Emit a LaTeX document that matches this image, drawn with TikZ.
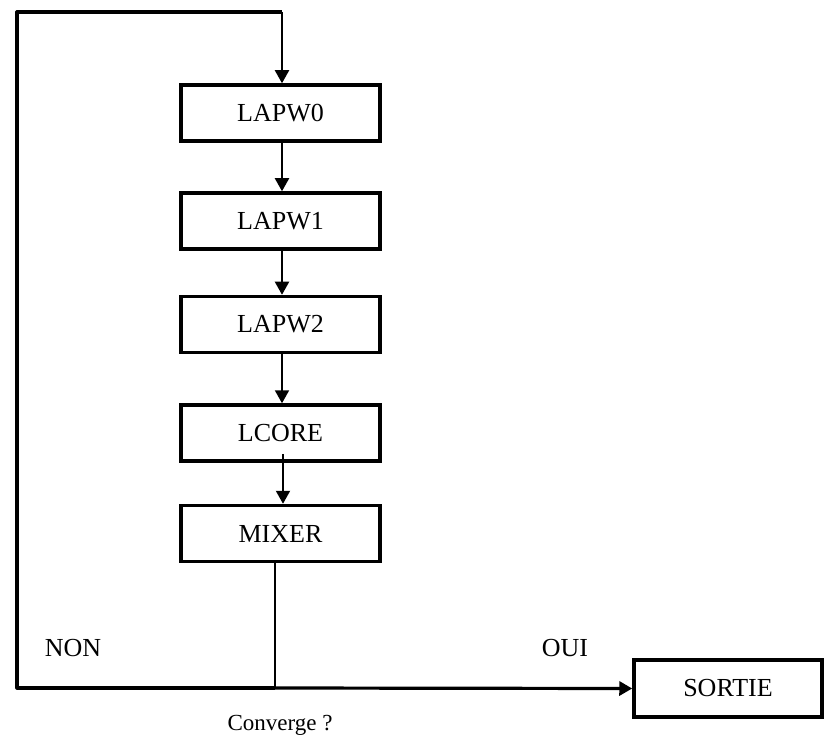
\documentclass[tikz,border=0pt]{standalone}
\usepackage{fontspec}
\setmainfont{Liberation Serif}
\usetikzlibrary{arrows.meta}
\begin{document}
\begin{tikzpicture}[x=1pt,y=-1pt,
  box/.style={draw, line width=3.5pt, minimum width=199pt, minimum height=56pt, inner sep=0pt,
    font=\fontsize{26}{31}\selectfont},
  conn/.style={line width=2pt},
  loop/.style={line width=3.2pt},
  tip/.style={-{Triangle[length=13pt,width=14pt]}},
  lbl/.style={font=\fontsize{26}{31}\selectfont, inner sep=0pt}]
\useasboundingbox (0,0) rectangle (825,738);
\node[box] (l0) at (280.5,113) {LAPW0};
\node[box] (l1) at (280.5,221) {LAPW1};
\node[box] (l2) at (280.5,324.5) {LAPW2};
\node[box] (lc) at (280.5,433) {LCORE};
\node[box] (mx) at (280.5,533.5) {MIXER};
\node[box, minimum width=188pt, minimum height=57pt] (so) at (728,688.5) {SORTIE};
\coordinate (c) at (275,688);
\coordinate (bl) at (17,688);
\coordinate (tl) at (17,12);
\coordinate (tr) at (282,12);
\draw[conn,tip] ([xshift=1.5pt]l0.south) -- ([xshift=1.5pt]l1.north);
\draw[conn,tip] ([xshift=1.5pt]l1.south) -- ([xshift=1.5pt]l2.north);
\draw[conn,tip] ([xshift=1.5pt]l2.south) -- ([xshift=1.5pt]lc.north);
\draw[conn,tip] ([xshift=2.5pt,yshift=9pt]lc.south) -- ([xshift=2.5pt]mx.north);
\draw[conn] (mx.south -| c) -- (c);
\draw[loop,line join=round] (c) -- (bl) -- (tl) -- (tr);
\draw[conn,tip] (tr) -- ([xshift=1.5pt]l0.north);
\draw[loop,tip] (c) -- (so.west);
\node[lbl] (non) at (73,648) {NON};
\node[lbl] (oui) at (565,648) {OUI};
\node[lbl, font=\fontsize{23}{28}\selectfont] (cv) at (280,725) {Converge ?};
\end{tikzpicture}
\end{document}
